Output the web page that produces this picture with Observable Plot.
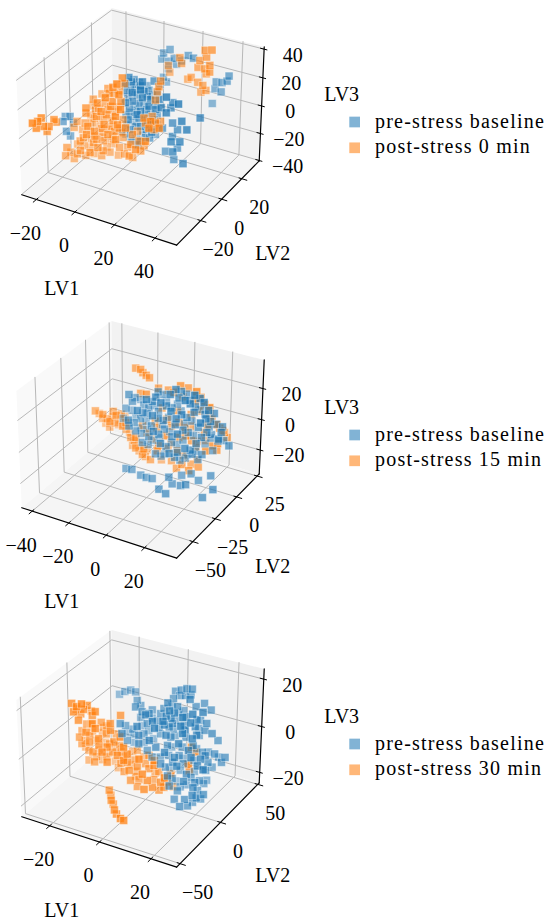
<!DOCTYPE html>
<html><head><meta charset="utf-8">
<script src="https://cdn.jsdelivr.net/npm/d3@7"></script>
<script src="https://cdn.jsdelivr.net/npm/@observablehq/plot@0.6"></script>
<style>
html,body{margin:0;padding:0;background:#fff;}
#root{position:relative;width:550px;height:924px;overflow:hidden;font-family:"Liberation Serif",serif;}
.panel{position:absolute;left:0;width:550px;height:302px;}
.panel svg{position:absolute;left:0;top:0;overflow:visible;}
</style></head><body><div id="root"></div>
<script>
// ---------------- data (LV1, LV2, LV3) ----------------
const p1Baseline = [[5.4,28,27.2],[8.7,28,30.9],[4.5,28,22.6],[8.2,28,22.4],[10.9,28,25.2],[18.0,28,30.0],[20.6,28,29.1],[14.7,28,25.0],[12.1,28,21.7],[7.9,28,16.9],[5.4,28,9.9],[7.0,28,7.1],[3.7,28,4.1],
[31.3,30,15.1],[34.2,30,15.7],[36.7,30,17.7],[37.6,30,21.6],[33.9,30,9.0],[30.8,30,10.1],[29.6,30,-1.0],
[6.2,-5,31.1],[3.1,5,22.0],[0.1,15,12.7],[4.5,-5,25.7],[1.4,5,16.5],[-1.6,15,7.3],[12.1,-5,27.6],[8.2,5,15.7],[5.1,15,8.8],[7.9,-5,21.2],[4.8,5,12.0],[-5.9,15,-0.3],[13.0,-5,19.7],[9.9,5,12.9],[6.8,15,6.0],[7.9,-5,15.3],[5.7,5,6.4],[2.6,15,-2.8],[16.3,-5,15.1],[0.6,5,0.8],[-1.6,15,-8.1],[12.1,-5,9.9],[-1.1,5,-4.6],[-3.3,15,-13.5],[11.3,-5,4.8],[9.0,5,-1.7],[6.0,15,-7.4],[19.7,-5,14.1],[13.3,5,24.9],[9.4,15,9.4],[21.4,-5,21.9],[13.3,5,-2.3],[-6.7,15,-20.8],[7.0,-5,-5.2],[4.0,5,-10.8],[1.8,15,-22.1],[15.5,-5,1.8],[12.4,5,-7.4],[-1.6,15,-28.2],[12.1,-5,-11.4],[9.0,5,-17.0],[-5.0,15,-29.5],[2.8,-5,-8.1],
[27.6,-10,29.1],[25.4,0,17.8],[33.5,-10,26.7],[24.5,0,13.9],[27.6,-10,18.4],[25.4,0,3.6],[35.2,-10,15.6],[27.9,0,-0.1],[37.7,-10,10.7],[25.4,0,-5.9],[34.4,-10,1.0],[22.0,0,-17.9],[31.0,-10,-7.4],[26.2,0,-22.1],[36.1,-10,-13.6],[38.9,0,12.6],[30.1,-10,-0.7],[27.9,0,-13.1],
[-24.0,-10,-4.8],[-21.5,-10,-3.8],[-22.1,-15,-4.2],[-19.8,-10,-7.8],[-20.4,-15,-10.6],[-21.5,-10,-17.9],
[4.7,0,24.3],[1.7,10,14.8],[15.8,-10,34.9],[1.4,20,7.4],[2.2,0,17.2],[-0.9,10,8.6],[14.9,-10,29.1],[0.9,20,1.3],[14.4,0,15.7],[11.0,10,3.9],[7.3,-10,17.3],[-4.9,20,-9.7],[12.2,0,7.7],[-1.4,10,-6.3],[13.2,-10,11.4],[-0.8,20,-19.0],[13.9,0,0.6],[12.2,10,-3.1],[8.6,-10,6.0],[-5.4,20,-22.5],[9.3,0,-5.3],[6.6,10,-15.6],[20.5,-10,2.1],[6.5,20,-18.9],[1.7,0,-13.8],[-0.9,10,-26.9],[13.7,-10,-9.6],[-0.8,20,-30.1],[13.9,0,-11.7],[11.3,10,-17.2],[25.1,-10,20.9],[20.3,0,-2.0]];
const p1Post0 = [[25.4,30,35.1],[28.8,30,36.5],[26.2,30,30.7],[22.9,30,27.0],[22.0,30,21.9],[25.4,30,22.1],[27.9,30,20.8],[18.6,30,13.5],[16.9,30,11.6],[22.0,30,11.3],[24.6,30,10.0],[26.2,30,7.1],[23.7,30,4.9],[26.2,30,18.9],[27.9,30,25.5],[12.7,30,25.3],[13.6,30,21.6],[6.8,30,17.5],[7.6,30,13.1],
[11.1,15,17.6],[10.2,15,13.3],[9.4,15,9.4],[8.5,15,3.1],
[0,0,25.2],[-4.8,10,13.0],[3.1,-10,28.6],[-7.0,5,8.4],[1.1,-5,17.2],[-6.8,0,11.9],[-16.6,10,1.1],[-7.1,-10,11.5],[-12.1,5,-0.7],[-2.3,-5,11.1],[-0.8,0,8.4],[-21.7,10,-9.2],[-13.0,-10,5.6],[-17.2,5,-7.5],[-8.2,-5,1.7],[-7.6,0,-0.3],[-9.8,10,-9.2],[4.8,-10,11.6],[-19.7,5,-12.1],[-10.7,-5,-2.9],[-10.2,0,-7.2],[-12.4,10,-14.9],[2.2,-10,5.8],[-2.8,5,-8.8],[-16.7,-5,-10.0],[-16.1,0,-13.1],[-18.3,10,-22.1],[-3.7,-10,-2.5],[-8.7,5,-15.9],[0.3,-5,-4.4],[-21.2,0,-19.9],[-23.4,10,-28.8],[-8.8,-10,-9.3],[-13.8,5,-22.7],[-4.8,-5,-13.5],[-4.2,0,-14.3],[-6.4,10,-23.2],[-14.7,-10,-16.4],[-19.7,5,-29.8],[-10.7,-5,-19.4],[-10.2,0,-23.8],[-12.4,10,-31.5],[2.2,-10,-10.8],[-20.9,-5,-27.1],[-17.5,-5,-26.9],[-16.9,0,-31.2],[-7.1,-10,-20.4],[-11.3,5,-32.3],[-21.5,-10,-29.8],[-18.1,-10,-29.6],[-16.7,-5,-33.7],[-15.2,0,-35.3],[-8.2,-5,-30.3],[-19.8,-10,-33.8],[0.8,0,-28.8],[6.2,-5,-24.4],[2.3,5,-34.4],[12.4,-10,-13.7],[9.3,0,-23.0],[8.2,5,-23.3],[14.6,-5,-10.4],[5.1,0,-12.9],[2.0,10,-18.6],[7.3,-10,-0.4],
[9.0,5,-6.4],[17.2,-5,4.8],[16.9,0,0.2],[13.9,10,-6.7],[19.1,-10,4.3],[13.3,5,-9.4],[21.4,-5,1.8],[11.0,0,1.3],[9.6,10,-4.9],
[-25.1,-35,7.0],[-24.3,-32,6.5],[-23.7,-30,7.8],[-24.5,-33,2.4],[-24.0,-28,0.4],[-23.1,-25,-1.4],[-23.5,-26,-4.3],[-22.3,-22,1.7],[-22.5,-20,-1.4],
[-20.9,-5,-10.5],[-22.6,-5,-15.5],
[-10.4,5,10.6],[-1.9,-5,21.2],[-7.3,10,7.2],[-2.9,-10,16.8],[-15.2,0,4.4],[-15.5,5,-5.7],[-3.1,-5,7.3],[-8.1,10,-5.0],[-13.0,-10,2.0],[-8.5,0,-4.2],[-7.9,5,-11.6],[1.1,-5,-6.4],[-20.8,10,-18.4],[-12.2,-10,-7.1],[-11.0,0,-15.1],[-10.4,5,-19.0],[-11.6,-5,-17.4],[-13.0,-10,-13.4],[-16.6,10,-30.8],[-5.1,0,-18.2],[-2.8,5,-21.8],[-16.4,-10,-19.5],[-12.4,-5,-22.5],[-10.7,10,-33.2],[-1.7,0,-25.1],[-7.4,-5,-26.4],[-6.8,0,-30.7],[-5.3,5,-35.8],[-11.3,-10,-25.7],[-16.4,-10,-26.5],[7.0,-5,-15.8],[8.5,0,-16.2],[-0.3,5,-27.9],[-20.4,-15,-22.4],[-21.2,-15,-28.7]];

const p2Baseline = [[-17.0,-10,17.2],[-18.8,0,9.7],[-20.7,10,3.0],[-2.7,-20,23.6],[-4.5,-10,16.8],[-6.3,0,17.5],[-8.3,10,10.3],[9.7,-20,30.9],[7.9,-10,28.4],[6.1,0,21.8],[4.2,10,14.6],[22.2,-20,34.4],[20.4,-10,27.0],
[-23.7,0,1.2],[-25.5,10,-5.7],[-7.5,-20,15.1],[-9.5,-10,8.1],[-11.3,0,5.5],[-13.1,10,1.4],[4.9,-20,24.1],[3.0,-10,16.6],[1.2,0,9.8],[-0.6,10,6.6],[17.4,-20,29.7],[15.4,-10,22.0],[13.6,0,14.5],[11.8,10,7.2],[24.8,-10,21.0],[23.4,0,13.6],
[-30.5,10,-12.8],[-12.3,-20,7.4],[-14.3,-10,0.0],[-15.7,0,-2.9],[-17.7,10,-10.5],[0.5,-20,14.6],[-1.3,-10,7.3],[-3.3,0,0.1],[-5.3,10,-3.6],[12.9,-20,16.8],[11.1,-10,13.7],[9.2,0,6.2],[7.2,10,-1.8],[25.4,-20,18.4],[23.6,-10,15.3],[21.6,0,7.9],[20.2,10,0.5],[27.8,0,6.6],
[-13.4,-10,-5.0],[-15.2,0,-12.5],[-17.2,10,-15.6],[1.0,-20,4.8],[-1.0,-10,-2.9],[-2.8,0,-5.4],[-4.6,10,-12.8],[13.6,-20,7.4],[11.8,-10,4.1],[10.0,0,-3.2],[8.2,10,-11.1],[21.5,-10,2.8],[19.8,0,0.2],[17.8,10,-7.1],[26.0,0,-1.9],[24.3,10,-8.7],
[-9.8,-10,-11.3],[-11.6,0,-18.6],[-13.4,10,-21.8],[4.8,-20,-1.6],[3.0,-10,-9.6],[1.2,0,-12.7],[-0.6,10,-19.9],[17.6,-20,-0.2],[15.8,-10,-7.3],[14.0,0,-14.0],[17.5,10,-9.4],[25.7,0,-3.1],[31.4,0,-4.3],
[-2.7,-10,-16.3],[-4.5,0,-23.8],[9.4,-20,-6.4],[7.6,-10,-14.9],[5.8,0,-22.8],[4.0,10,-27.5],[16.8,-10,-9.5],[15.4,0,-19.0],
[-13.7,-20,-24.5],[-10.5,-20,-24.0],[-5.7,-20,-26.0],[-2.7,-20,-26.4],[0.5,-20,-26.0],[9.0,-30,-24.2],[12.6,-30,-25.8],[11.2,-20,-25.5],[15.6,-20,-25.0],[18.3,-20,-23.4],[16.5,-10,-22.5],[20.4,-10,-25.4],[26.8,-10,-20.0],[32.5,-20,-21.3],[27.2,-20,-28.5],[11.5,-10,-25.3],[9.4,-20,-21.8],
[-17.7,-5,10.2],[-16.5,5,3.2],[-0.2,-15,23.5],[-9.0,15,3.2],[7.2,-5,20.5],[8.4,5,14.4],[24.7,-15,28.3],[-25.9,15,-12.7],[-9.7,-5,4.8],[-8.5,5,1.7],[7.8,-15,17.3],[-1.0,15,-0.5],[15.2,-5,14.1],[16.4,5,8.2],[-14.5,-15,0.4],[-23.2,15,-19.3],[-7.4,-5,-2.3],[-6.3,5,-6.1],[10.1,-15,9.6],[1.1,15,-8.3],[17.5,-5,5.3],[18.6,5,0.8],[-3.8,-15,-2.9],[-12.6,15,-22.4],[3.7,-5,-5.5],[4.9,5,-12.5],[21.1,-15,1.4],[12.3,15,-17.6],[29.4,-5,6.2],[-4.9,5,-25.3],[11.3,-15,-7.7],[2.5,15,-28.5],[19.7,-5,-11.5],[20.9,5,-13.8]];
const p2Post15 = [[-20.9,5,25.6],[-18.2,5,25.6],[-17.0,5,23.9],[-15.2,5,22.8],[-13.4,5,21.8],
[-35.6,-10,0.5],[-38.8,0,-7.3],[-31.5,-10,-0.6],[-34.4,0,-9.4],[-36.7,10,-13.9],[-24.1,-10,1.5],[-26.4,0,-3.6],[-29.6,10,-11.4],[-27.6,-10,-3.6],[-30.0,0,-10.6],[-33.2,10,-18.0],[-20.5,-10,-4.3],[-23.7,0,-12.7],[-27.0,10,-21.2],[-16.1,-10,-10.3],[-33.0,0,-14.4],
[-15.7,0,13.5],[-7.7,-10,20.4],[-5.6,10,14.0],[5.6,0,25.2],[5.0,10,18.8],[18.6,-10,30.6],[16.3,0,21.4],[13.9,10,11.2],[25.4,-10,22.9],[15.4,0,12.6],[16.6,10,5.3],[29.3,-10,13.6],[26.4,0,5.3],[24.6,10,-3.3],[28.9,-20,18.1],[9.7,-10,8.3],[8.3,0,-0.6],[-3.8,10,-8.9],[7.6,-20,4.3],[9.7,-10,-1.3],[11.8,0,-7.9],[10.4,10,-14.0],[23.9,-10,-4.9],[25.2,0,-9.3],[-5.6,10,-24.4],[13.8,-20,-3.2],[12.4,-10,-12.1],[11.8,0,-23.3],[10.4,10,-26.4],[11.5,-10,-18.2],[1.2,0,-24.8],[-1.0,-10,-10.3],[-14.5,10,-21.1],[-4.8,-20,6.4],[-13.4,-10,-9.3],[-20.2,0,-22.2],[-13.4,-10,-16.2],[-16.6,0,-24.6],[-9.8,-10,-19.2],[-13.1,0,-27.2],[-5.4,-10,-21.1],[-17.2,10,-29.5],
[-4.2,0,7.9],[8.8,-10,15.5],[6.8,10,2.3],[-6.8,0,-5.8],[14.8,10,-12.0],
[-39.6,5,-13.4],[-28.3,-5,0.1],[-34.8,15,-17.9],[-16.2,-15,1.9],[-37.8,5,-16.0],[-16.8,-5,-15.2],[-24.1,15,-31.3],[-6.5,-15,-11.8],[-8.5,5,16.7],[4.5,-5,23.2],[-0.1,15,9.0],[20.2,-15,28.0],[20.0,5,6.2],[30.3,-5,7.6],[23.9,15,-9.4],[15.8,-15,4.5],[12.0,5,-14.7],[25.0,-5,-3.9],[-6.3,15,-24.1],[0.7,-15,-10.4],[-6.7,5,-29.8],[6.3,-5,-25.3],[17.5,-15,-17.3],[17.9,-5,-20.2],[-10.2,5,-5.3],[1.0,-5,4.9],[4.3,15,-8.7],[-4.7,-15,-0.5],[16.4,5,-3.6],[27.7,-5,-1.5]];

const p3Baseline = [[-17.3,20,9.4],[-15.1,20,11.2],[-12.7,20,12.5],[-10.7,20,12.3],[-6.7,10,12.7],[-4.0,0,13.7],[-5.3,10,11.0],[-1.4,0,12.4],[3.3,-10,15.5],[-5.3,10,6.0],[1.3,0,12.5],[-0.7,10,10.5],
[5.2,20,17.1],[7.4,20,18.2],[9.6,20,19.4],[11.7,20,19.8],[6.9,20,15.8],[9.0,20,16.4],[11.2,20,17.3],[16.5,20,15.3],[19.1,20,13.3],
[8.6,0,19.0],[3.9,20,10.7],[9.2,10,14.7],[3.9,10,12.4],[12.5,-10,19.8],[11.2,0,15.6],[6.5,20,8.7],[8.5,20,10.0],[2.6,10,9.9],[11.2,-10,17.3],
[9.9,0,13.1],[5.2,20,4.8],[20.6,-20,22.5],[12.6,10,11.5],[21.2,-10,21.0],[19.8,0,15.4],[15.1,20,7.8],[20.5,10,11.1],[1.3,10,6.6],[5.9,-10,13.5],
[0.6,0,8.1],[-8.1,20,-1.4],[3.3,-20,13.7],[-8.6,10,0.0],[-6.7,-10,8.9],[-8.0,0,4.7],[-14.0,20,-6.1],[-2.6,-20,9.0],[-8.0,10,-1.9],[0.6,-10,6.2],
[-0.7,0,3.4],[-5.4,20,-2.7],[10.0,-20,15.0],[2.0,10,4.0],[10.5,-10,13.5],[9.2,0,9.3],[4.5,20,1.0],[19.9,-20,18.8],[11.9,10,7.8],[20.5,-10,17.3],
[19.2,0,12.4],[14.5,20,4.1],[19.9,10,8.1],[2.6,10,1.4],[11.2,-10,9.5],[9.9,0,5.3],[5.2,20,-1.6],[20.6,-20,16.1],[12.6,10,3.0],[21.2,-10,11.1],
[19.8,0,9.1],[-3.4,20,-5.6],[8.0,-20,9.4],[-4.0,10,-4.2],[0.6,-10,2.7],[8.6,0,1.4],[3.9,20,-6.9],[19.2,-20,11.5],[11.2,10,-1.6],[19.8,-10,5.8],
[18.5,0,4.4],[13.8,20,-4.6],[19.2,10,-1.3],[13.9,-20,6.3],[5.9,10,-6.8],[14.5,-10,1.3],[13.2,0,-1.5],[8.5,20,-10.4],[23.9,-20,7.3],[15.9,10,-5.8],
[24.5,-10,3.7],[23.2,0,1.6],[18.4,20,-4.6],[23.8,10,-0.6],[22.4,20,-5.5],[26.5,10,-3.3],[9.2,-10,-3.1],[7.9,0,-8.0],[3.2,20,-16.3],[18.6,-20,2.1],
[10.6,10,-11.7],[19.2,-10,-4.3],[17.9,0,-9.2],[13.1,20,-14.7],[28.5,-20,3.8],[20.5,10,-8.6],[11.9,-10,-7.3],[10.6,0,-12.1],[5.8,20,-21.2],[21.2,-20,-3.4],
[13.2,10,-17.2],[21.8,-10,-9.1],[20.5,0,-14.0],[25.8,-10,-10.7],[24.6,-20,-8.1],[23.1,-10,-13.0],[21.8,0,-17.2],[15.8,-10,-12.4],[19.9,-20,-14.4],[19.8,-10,-17.5],
[21.2,0,-9.6],[19.9,10,-14.5],
[6.0,15,15.7],[15.5,5,21.0],[14.8,15,14.9],[23.5,-5,21.0],[-2.4,15,5.1],[11.6,-15,16.8],[8.9,5,9.1],[16.9,-5,11.9],[16.2,15,3.3],[24.1,5,9.5],[23.5,15,3.4],[-5.6,-5,0.7],[-9.7,15,-7.5],[8.9,-15,5.4],[4.2,5,-6.5],[12.3,-5,-3.0],[10.2,15,-10.6],[24.8,-15,2.6],[22.8,5,-2.9],[21.5,15,-8.5],[14.2,-15,-9.2],[12.2,5,-16.8],[20.9,-5,-8.8],[19.5,15,-14.8],[20.2,-15,-13.0],[20.2,-5,-17.5],[16.2,-15,-14.2],[0.9,5,-7.5],[2.3,-5,-1.1],[27.8,10,-0.8]];
const p3Post30 = [[-22.5,-20,15.6],[-20.5,-20,14.8],[-18.5,-20,16.5],[-19.9,-10,12.6],[-21.8,-20,12.3],[-22.6,-10,8.3],[-21.9,0,6.8],[-17.9,-10,9.0],[-19.9,-20,9.4],[-23.9,0,0.6],[-17.9,-10,5.5],[-17.9,0,3.1],[-19.2,10,-1.8],[-10.7,-10,7.7],[-10.0,0,8.4],
[-25.9,0,-2.9],[-20.6,-10,1.1],[-25.2,10,-5.8],[-13.2,-20,7.9],[-24.6,20,-9.3],[-15.9,0,-1.2],[-10.7,-10,4.9],[-15.3,10,-4.1],[-3.3,-20,7.4],[-23.3,-10,-1.8],
[-24.6,0,-6.7],[-19.3,-10,-2.7],[-23.9,10,-9.6],[-11.9,-20,4.0],[-23.3,20,-13.2],[-14.6,0,-5.1],[-9.3,-10,0.4],[-13.9,10,-8.6],[-2.0,-20,3.6],[-23.2,0,-10.5],
[-17.9,-10,-6.5],[-22.5,10,-13.4],[-10.6,-20,-1.2],[-22.0,20,-17.7],[-13.3,0,-8.2],[-8.0,-10,-4.9],[-12.6,10,-13.2],[-0.6,-20,1.1],[-12.0,20,-13.9],[-23.2,0,-14.8],
[-17.3,-10,-10.6],[-21.2,10,-17.2],[-8.6,-20,-4.8],[-19.3,20,-20.4],[-10.0,0,-12.1],[-4.0,-10,-6.5],[-8.0,10,-13.2],[4.0,-20,0.4],[-7.4,20,-14.6],[1.3,0,-5.1],
[-3.3,-10,-9.8],[-7.3,10,-17.9],[5.3,-20,-5.5],[1.3,0,-10.8],[6.6,-10,-4.6],[2.0,10,-15.1],[13.9,-20,-4.3],[8.6,0,-14.2],[9.2,-10,-10.9],[0.0,10,-19.2],
[-2.7,-10,-13.9],[-2.7,0,-16.9],[6.0,-20,-11.7],[10.5,-10,-12.6],[17.9,0,3.5],[16.5,10,-2.1],[19.8,-10,0.1],[17.2,0,-6.6],
[-7.9,-20,-16.6],[-7.3,-20,-18.6],[-5.4,-25,-18.5],[-4.6,-25,-19.9],[-2.4,-30,-20.0],[-1.6,-30,-21.5],[1.7,-35,-20.6],[3.0,-35,-21.0],
[-26.2,-5,7.8],[-19.6,-15,12.5],[-14.9,-15,12.9],[-22.3,15,-5.0],[-20.9,-5,-1.9],[-26.3,5,-11.6],[-10.3,-15,-0.5],[-17.0,15,-12.6],[-18.2,-5,-10.2],[-17.6,5,-13.2],[-3.7,-15,-4.1],[-11.0,15,-17.8],[-1.7,-5,-9.4],[-1.7,5,-11.2],[8.3,-15,-0.4],[-16.3,15,-20.8],[-7.0,-5,-13.1],[-5.7,5,-18.0],[5.6,-15,-9.7],[-1.1,15,-18.3],[11.6,-5,-8.1],[9.5,5,-17.6],[7.6,-15,-11.9],[7.0,-5,-16.6],[-1.7,-5,-17.9],[-11.7,5,-9.3],[-13.6,-15,-0.8],[-24.2,-5,-6.4],[-8.4,15,-10.6],[-20.2,-5,3.3]];

// axis limits and ticks
const xLim1 = [-27.7, 50.4], yLim1 = [-41.9, 38.1], zLim1 = [-40.3, 41.5];
const xLim2 = [-45.8, 36.3], yLim2 = [-67.3, 27.6], zLim2 = [-36, 38];
const xLim3 = [-31.5, 29.7], yLim3 = [-54, 52], zLim3 = [-24.7, 24.2];
const xTicks1 = [-20, 0, 20, 40], yTicks1 = [-20, 0, 20], zTicks1 = [-40, -20, 0, 20, 40];
const xTicks2 = [-40, -20, 0, 20], yTicks2 = [-50, -25, 0, 25], zTicks2 = [-20, 0, 20];
const xTicks3 = [-20, 0, 20], yTicks3 = [-50, 0, 50], zTicks3 = [-20, 0, 20];
const axisTitles = ["LV1", "LV2", "LV3"];
const legend1 = ["pre-stress baseline", "post-stress 0 min"];
const legend2 = ["pre-stress baseline", "post-stress 15 min"];
const legend3 = ["pre-stress baseline", "post-stress 30 min"];

// ---------------- rendering ----------------
const W = 550, H = 302, S = 1553, CX = 142.1, CY = 120.6;
const PANEL_TOPS = [0, 312.6, 621.8];
const BLUE = "#1f77b4", ORANGE = "#ff7f0e";
const FONT = "Liberation Serif";

const panels = [
  {xlim: xLim1, ylim: yLim1, zlim: zLim1, xticks: xTicks1, yticks: yTicks1, zticks: zTicks1, series: [p1Baseline, p1Post0], legend: legend1, order: [0, 1]},
  {xlim: xLim2, ylim: yLim2, zlim: zLim2, xticks: xTicks2, yticks: yTicks2, zticks: zTicks2, series: [p2Baseline, p2Post15], legend: legend2, order: [1, 0]},
  {xlim: xLim3, ylim: yLim3, zlim: zLim3, xticks: xTicks3, yticks: yTicks3, zticks: zTicks3, series: [p3Baseline, p3Post30], legend: legend3, order: [1, 0]}
];

const dot3 = (a, b) => a[0]*b[0] + a[1]*b[1] + a[2]*b[2];
function makeProjector(xl, yl, zl) {
  const asp = [4, 4, 3], n = Math.hypot(...asp);
  const A = asp.map(v => v * 1.8294640721620434 / n);
  const e = 30 * Math.PI / 180, a = -60 * Math.PI / 180;
  const w = [Math.cos(e)*Math.cos(a), Math.cos(e)*Math.sin(a), Math.sin(e)];
  let u = [-w[1], w[0], 0]; const un = Math.hypot(...u); u = u.map(v => v/un);
  const v = [w[1]*u[2]-w[2]*u[1], w[2]*u[0]-w[0]*u[2], w[0]*u[1]-w[1]*u[0]];
  return ([x, y, z]) => {
    const q = [((x-xl[0])/(xl[1]-xl[0]) - 0.5)*A[0], ((y-yl[0])/(yl[1]-yl[0]) - 0.5)*A[1], ((z-zl[0])/(zl[1]-zl[0]) - 0.5)*A[2]];
    const den = 10 - dot3(w, q);
    return [dot3(u, q)/den, dot3(v, q)/den, dot3(w, q)];
  };
}
const fmt = t => t < 0 ? "\u2212" + Math.abs(t) : String(t);

const root = document.getElementById("root");
panels.forEach((cfg, i) => {
  const [X0, X1] = cfg.xlim, [Y0, Y1] = cfg.ylim, [Z0, Z1] = cfg.zlim;
  const rx = X1 - X0, ry = Y1 - Y0;
  const proj = makeProjector(cfg.xlim, cfg.ylim, cfg.zlim);
  const P = (p, extra = {}) => { const r = proj(p); return {px: r[0], py: r[1], d: r[2], ...extra}; };
  const paneX = [[X0,Y0,Z0],[X0,Y1,Z0],[X0,Y1,Z1],[X0,Y0,Z1]].map(p => P(p));
  const paneY = [[X0,Y1,Z0],[X1,Y1,Z0],[X1,Y1,Z1],[X0,Y1,Z1]].map(p => P(p));
  const paneZ = [[X0,Y0,Z0],[X1,Y0,Z0],[X1,Y1,Z0],[X0,Y1,Z0]].map(p => P(p));
  const grid = [];
  cfg.xticks.forEach((t, k) => [[t,Y0,Z0],[t,Y1,Z0],[t,Y1,Z1]].forEach(p => grid.push(P(p, {id: "x"+k}))));
  cfg.yticks.forEach((t, k) => [[X1,t,Z0],[X0,t,Z0],[X0,t,Z1]].forEach(p => grid.push(P(p, {id: "y"+k}))));
  cfg.zticks.forEach((t, k) => [[X0,Y0,t],[X0,Y1,t],[X1,Y1,t]].forEach(p => grid.push(P(p, {id: "z"+k}))));
  const axes = [P([X0,Y0,Z0],{id:"x"}), P([X1,Y0,Z0],{id:"x"}), P([X1,Y0,Z0],{id:"y"}), P([X1,Y1,Z0],{id:"y"}), P([X1,Y1,Z0],{id:"z"}), P([X1,Y1,Z1],{id:"z"})];
  const seg = (a, b) => { const A = proj(a), B = proj(b); return {ax: A[0], ay: A[1], bx: B[0], by: B[1]}; };
  const ticks = [
    ...cfg.xticks.map(t => seg([t, Y0 - 0.035*ry, Z0], [t, Y0 + 0.02*ry, Z0])),
    ...cfg.yticks.map(t => seg([X1 + 0.035*rx, t, Z0], [X1 - 0.02*rx, t, Z0])),
    ...cfg.zticks.map(t => seg([X1 + 0.02*rx, Y1, t], [X1 - 0.025*rx, Y1, t]))
  ];
  const xLab = cfg.xticks.map(t => P([t, Y0, Z0], {label: fmt(t)}));
  const yLab = cfg.yticks.map(t => P([X1, t, Z0], {label: fmt(t)}));
  const zLab = cfg.zticks.map(t => P([X1, Y1, t], {label: fmt(t)}));
  const titles = [
    P([(X0+X1)/2, Y0, Z0], {label: axisTitles[0], dx: -35.5, dy: 69}),
    P([X1, (Y0+Y1)/2, Z0], {label: axisTitles[1], dx: 53, dy: 52}),
    P([X1, Y1, (Z0+Z1)/2], {label: axisTitles[2], dx: 80, dy: -11})
  ];
  const colors = [BLUE, ORANGE];
  const seriesRows = cfg.series.map((data, k) => {
    const rows = data.map(p => P(p));
    const ds = rows.map(r => r.d), dmin = Math.min(...ds), dmax = Math.max(...ds);
    rows.forEach(r => { const far = (dmax - r.d) / ((dmax - dmin) || 1); r.alpha = 0.78 * (1 - 0.5 * far); });
    rows.sort((a, b) => a.d - b.d);
    return rows;
  });
  const txt = {fontSize: 20, fontFamily: FONT, fill: "black", textAnchor: "middle"};
  const marks = [
    Plot.line(paneX, {x: "px", y: "py", fill: "#f9f9f9", stroke: "none"}),
    Plot.line(paneY, {x: "px", y: "py", fill: "#f2f2f2", stroke: "none"}),
    Plot.line(paneZ, {x: "px", y: "py", fill: "#f5f5f5", stroke: "none"}),
    Plot.line(grid, {x: "px", y: "py", z: "id", stroke: "#b8b8b8", strokeWidth: 1}),
    Plot.line(axes, {x: "px", y: "py", z: "id", stroke: "black", strokeWidth: 1.2}),
    Plot.link(ticks, {x1: "ax", y1: "ay", x2: "bx", y2: "by", stroke: "black", strokeWidth: 1}),
    Plot.text(xLab, {x: "px", y: "py", text: "label", dx: -11, dy: 34, ...txt}),
    Plot.text(yLab, {x: "px", y: "py", text: "label", dx: 17.5, dy: 29, ...txt}),
    Plot.text(zLab, {x: "px", y: "py", text: "label", dx: 28.5, dy: 6, ...txt}),
    ...titles.map(t => Plot.text([t], {x: "px", y: "py", text: "label", dx: t.dx, dy: t.dy, ...txt})),
    ...cfg.order.map(k => Plot.dot(seriesRows[k], {x: "px", y: "py", symbol: "square", r: 4.5, fill: colors[k], fillOpacity: "alpha", stroke: "white", strokeWidth: 0.5, strokeOpacity: 0.8}))
  ];
  const chart = Plot.plot({
    width: W, height: H, margin: 0,
    x: {domain: [-CX / S, (W - CX) / S], range: [0, W], axis: null},
    y: {domain: [CY / S, (CY - H) / S], range: [0, H], axis: null},
    style: {fontFamily: FONT, fontSize: "20px", background: "transparent", overflow: "visible"},
    marks
  });
  const div = document.createElement("div");
  div.className = "panel";
  div.style.top = PANEL_TOPS[i] + "px";
  div.appendChild(chart);
  root.appendChild(div);
  // legend
  const lg = d3.select(div).append("svg").attr("width", W).attr("height", H);
  const rowsY = [122, 147.8], baseY = [127.5, 153];
  cfg.legend.forEach((lab, k) => {
    lg.append("rect").attr("x", 349.3).attr("y", rowsY[k] - 5.35).attr("width", 10.7).attr("height", 10.7)
      .attr("fill", colors[k]).attr("fill-opacity", 0.56);
    lg.append("text").attr("x", 375).attr("y", baseY[k]).text(lab)
      .attr("font-family", FONT).attr("font-size", 20).attr("letter-spacing", 1.2).attr("fill", "black");
  });
});
</script>
</body></html>
